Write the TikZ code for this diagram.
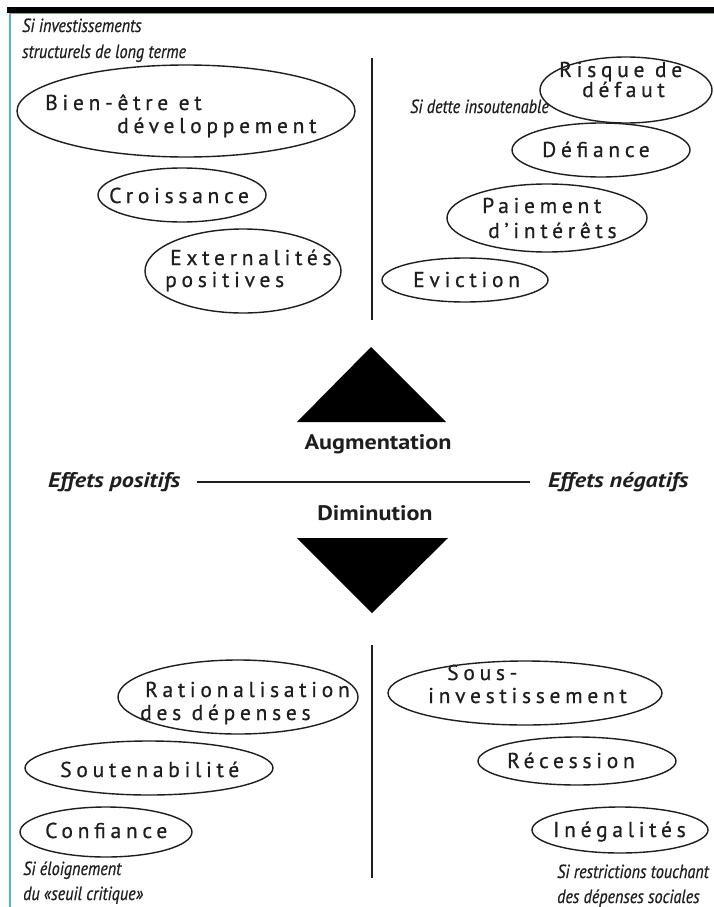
\documentclass[tikz,border=0pt]{standalone}
\usepackage{fontspec}
\setmainfont{PT Sans}
\newfontfamily\ellfont[LetterSpace=22,FakeBold=0.6]{PT Sans}
\newfontfamily\condfont[FakeStretch=0.85,FakeBold=0.6]{PT Sans}
\newfontfamily\boldfont[FakeStretch=1.15]{PT Sans}
\usetikzlibrary{shapes.geometric}
\definecolor{teal1}{RGB}{80,185,195}
\definecolor{ink}{RGB}{30,30,30}
\begin{document}
\begin{tikzpicture}[x=1pt,y=-1pt,
  oval/.style={draw=ink, line width=1.4pt, ellipse, inner sep=0pt},
  ltxt/.style={anchor=base west, inner sep=0pt, text=ink, font=\ellfont\fontsize{21.5pt}{24pt}\selectfont},
  cond/.style={anchor=base west, inner sep=0pt, text=ink, font=\condfont\itshape\fontsize{19pt}{22pt}\selectfont},
  effet/.style={anchor=base west, inner sep=0pt, text=ink, font=\boldfont\bfseries\itshape\fontsize{21pt}{24pt}\selectfont},
  sens/.style={anchor=base, inner sep=0pt, text=ink, font=\boldfont\bfseries\fontsize{21pt}{24pt}\selectfont},
  axis/.style={draw=ink, line width=2pt},
  tri/.style={fill=black}
]
\useasboundingbox (0,0) rectangle (714,907);
\fill[white] (0,0) rectangle (714,907);
% frame
\fill[black] (7,7) rectangle (714,13);
\draw[teal1, line width=1.2pt] (10,13.6) -- (714,13.6);
\draw[teal1, line width=2pt] (10,13) -- (10,907);

% upper left
\node[cond] (l1) at (22,32) {Si investissements};
\node[cond] (l2) at (22,58) {structurels de long terme};
\node[oval, minimum width=338pt, minimum height=92pt] (bien) at (186,111) {};
\node[ltxt] (bien1) at (45,110) {Bien-être et};
\node[ltxt] (bien2) at (117,133) {développement};
\node[oval, minimum width=168pt, minimum height=54pt] (crois) at (182,195) {};
\node[ltxt] (crois1) at (109,203) {Croissance};
\node[oval, minimum width=196pt, minimum height=84pt] (ext) at (243,271) {};
\node[ltxt] (ext1) at (170,265) {Externalités};
\node[ltxt] (ext2) at (165,287) {positives};

% upper right
\coordinate (vu1) at (372,58);
\coordinate (vu2) at (372,320);
\draw[axis] (vu1) -- (vu2);
\node[oval, minimum width=172pt, minimum height=66pt] (risque) at (626,90) {};
\node[ltxt] (risque1) at (559,77) {Risque de};
\node[ltxt] (risque2) at (582,97) {défaut};
\node[cond] (r1) at (410,113) {Si dette insoutenable};
\node[oval, minimum width=178pt, minimum height=54pt] (defi) at (601,150) {};
\node[ltxt] (defi1) at (542,157) {Défiance};
\node[oval, minimum width=200pt, minimum height=68pt] (paie) at (547,218) {};
\node[ltxt] (paie1) at (482,213) {Paiement};
\node[ltxt] (paie2) at (488,238) {d’intérêts};
\node[oval, minimum width=166pt, minimum height=44pt] (evic) at (465,280) {};
\node[ltxt] (evic1) at (413,287) {Eviction};

% centre
\fill[tri] (297,422) -- (371,347) -- (446,422) -- cycle;
\node[sens] (aug) at (378,449) {Augmentation};
\node[effet] (pos) at (48,487) {Effets positifs};
\node[effet] (neg) at (548,487) {Effets négatifs};
\coordinate (hl) at (197,482);
\coordinate (hr) at (530,482);
\draw[draw=ink, line width=1.6pt] (hl) -- (hr);
\node[sens] (dim) at (375,520) {Diminution};
\fill[tri] (297,538) -- (448,538) -- (372,613) -- cycle;

% lower left
\node[oval, minimum width=240pt, minimum height=74pt] (ratio) at (238,697) {};
\node[ltxt] (ratio1) at (145,697) {Rationalisation};
\node[ltxt] (ratio2) at (140,720) {des dépenses};
\node[oval, minimum width=248pt, minimum height=54pt] (sout) at (149,768) {};
\node[ltxt] (sout1) at (60,777) {Soutenabilité};
\node[oval, minimum width=172pt, minimum height=50pt] (conf) at (106,832) {};
\node[ltxt] (conf1) at (45,838) {Confiance};
\node[cond] (b1) at (23,875) {Si éloignement};
\node[cond] (b2) at (23,900) {du «seuil critique»};

% lower right
\coordinate (vl1) at (372,645);
\coordinate (vl2) at (372,878);
\draw[axis] (vl1) -- (vl2);
\node[oval, minimum width=274pt, minimum height=64pt] (sous) at (525,693) {};
\node[ltxt] (sous1) at (447,680) {Sous-};
\node[ltxt] (sous2) at (428,703) {investissement};
\node[oval, minimum width=198pt, minimum height=48pt] (rece) at (577,761) {};
\node[ltxt] (rece1) at (507,768) {Récession};
\node[oval, minimum width=176pt, minimum height=46pt] (ineg) at (620,830) {};
\node[ltxt] (ineg1) at (553,837) {Inégalités};
\node[cond] (c1) at (557,878) {Si restrictions touchant};
\node[cond] (c2) at (557,903) {des dépenses sociales};
\end{tikzpicture}
\end{document}
